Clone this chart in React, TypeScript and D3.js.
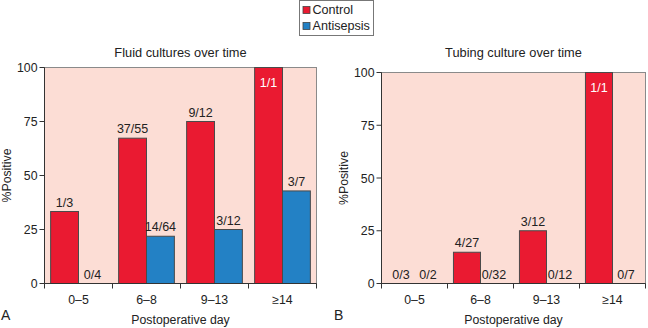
import React from "react";
import * as d3 from "d3";

const categories = ["0–5", "6–8", "9–13", "≥14"];
const seriesNames = ["Control", "Antisepsis"];
const fluidControlLabels = ["1/3", "37/55", "9/12", "1/1"];
const fluidAntisepsisLabels = ["0/4", "14/64", "3/12", "3/7"];
const tubingControlLabels = ["0/3", "4/27", "3/12", "1/1"];
const tubingAntisepsisLabels = ["0/2", "0/32", "0/12", "0/7"];
const yTicks = [0, 25, 50, 75, 100];

const pct = (s: string) => {
  const [a, b] = s.split("/").map(Number);
  return (a / b) * 100;
};

const COLORS = ["#ea1a31", "#2381c5"];
const BG = "#fcddd5";
const FONT = "'Liberation Sans', Arial, sans-serif";

type PanelProps = {
  title: string;
  letter: string;
  left: number;
  right: number;
  top: number;
  bottom: number;
  control: string[];
  antisepsis: string[];
  letterX: number;
};

function Panel({ title, letter, left, right, top, bottom, control, antisepsis, letterX }: PanelProps) {
  const x0 = d3.scaleBand<string>().domain(categories).range([left, right]).padding(0);
  const x1 = d3
    .scaleBand<string>()
    .domain(seriesNames)
    .range([0, x0.bandwidth()])
    .paddingInner(0)
    .paddingOuter(0.22);
  const y = d3.scaleLinear().domain([0, 100]).range([bottom, top]);
  const series = [control, antisepsis];
  const cx = (left + right) / 2;
  return (
    <g fontFamily={FONT}>
      <rect x={left} y={top} width={right - left} height={bottom - top} fill={BG} stroke="#8a8a8a" strokeWidth={1} />
      <text x={cx} y={57} textAnchor="middle" fontSize={12.8} fill="#222">
        {title}
      </text>
      {categories.map((c, i) =>
        series.map((labels, s) => {
          const v = pct(labels[i]);
          const bx = (x0(c) as number) + (x1(seriesNames[s]) as number);
          const bw = x1.bandwidth();
          const by = y(v);
          const inside = v >= 100;
          return (
            <g key={c + s}>
              {v > 0 && (
                <rect x={bx} y={by} width={bw} height={bottom - by} fill={COLORS[s]} stroke="#4a4a4a" strokeWidth={1} />
              )}
              <text
                x={bx + bw / 2}
                y={inside ? by + 19 : by - 5}
                textAnchor="middle"
                fontSize={12.5}
                fill={inside ? "#fff" : "#222"}
              >
                {labels[i]}
              </text>
            </g>
          );
        })
      )}
      <line x1={left} x2={left} y1={top} y2={bottom} stroke="#333" strokeWidth={1} />
      <line x1={left} x2={right} y1={bottom} y2={bottom} stroke="#333" strokeWidth={1} />
      {yTicks.map((t) => (
        <g key={t}>
          <line x1={left - 5} x2={left} y1={y(t)} y2={y(t)} stroke="#333" />
          <text x={left - 7} y={y(t) + 4.5} textAnchor="end" fontSize={12.3} fill="#222">
            {t}
          </text>
        </g>
      ))}
      {[...categories.map((c) => x0(c) as number), right].map((xx, i) => (
        <line key={i} x1={xx} x2={xx} y1={bottom} y2={bottom + 5} stroke="#333" />
      ))}
      {categories.map((c) => (
        <text key={c} x={(x0(c) as number) + x0.bandwidth() / 2} y={bottom + 20} textAnchor="middle" fontSize={12.3} fill="#222">
          {c}
        </text>
      ))}
      <text
        transform={`translate(${left - 34},${(top + bottom) / 2}) rotate(-90)`}
        textAnchor="middle"
        fontSize={12.3}
        fill="#222"
      >
        %Positive
      </text>
      <text x={cx} y={bottom + 40.5} textAnchor="middle" fontSize={12.3} fill="#222">
        Postoperative day
      </text>
      <text x={letterX} y={bottom + 36} fontSize={14} fill="#222">
        {letter}
      </text>
    </g>
  );
}

export default function App() {
  return (
    <svg width={648} height={328} style={{ display: "block", position: "absolute", left: 0, top: 0, background: "#fff" }}>
      <rect width={648} height={328} fill="#fff" />
      <g fontFamily={FONT}>
        <rect x={299.5} y={0.5} width={74} height={35} fill="#fff" stroke="#777" />
        {seriesNames.map((s, i) => (
          <g key={s}>
            <rect x={303} y={6.5 + i * 16} width={7} height={7} fill={COLORS[i]} stroke="#444" strokeWidth={0.8} />
            <text x={312.5} y={13.5 + i * 16} fontSize={12.6} fill="#222">
              {s}
            </text>
          </g>
        ))}
      </g>
      <Panel
        title="Fluid cultures over time"
        letter="A"
        left={44.5}
        right={316.5}
        top={67.5}
        bottom={283.5}
        control={fluidControlLabels}
        antisepsis={fluidAntisepsisLabels}
        letterX={1}
      />
      <Panel
        title="Tubing culture over time"
        letter="B"
        left={381.5}
        right={645.5}
        top={72.5}
        bottom={283.5}
        control={tubingControlLabels}
        antisepsis={tubingAntisepsisLabels}
        letterX={334}
      />
    </svg>
  );
}
